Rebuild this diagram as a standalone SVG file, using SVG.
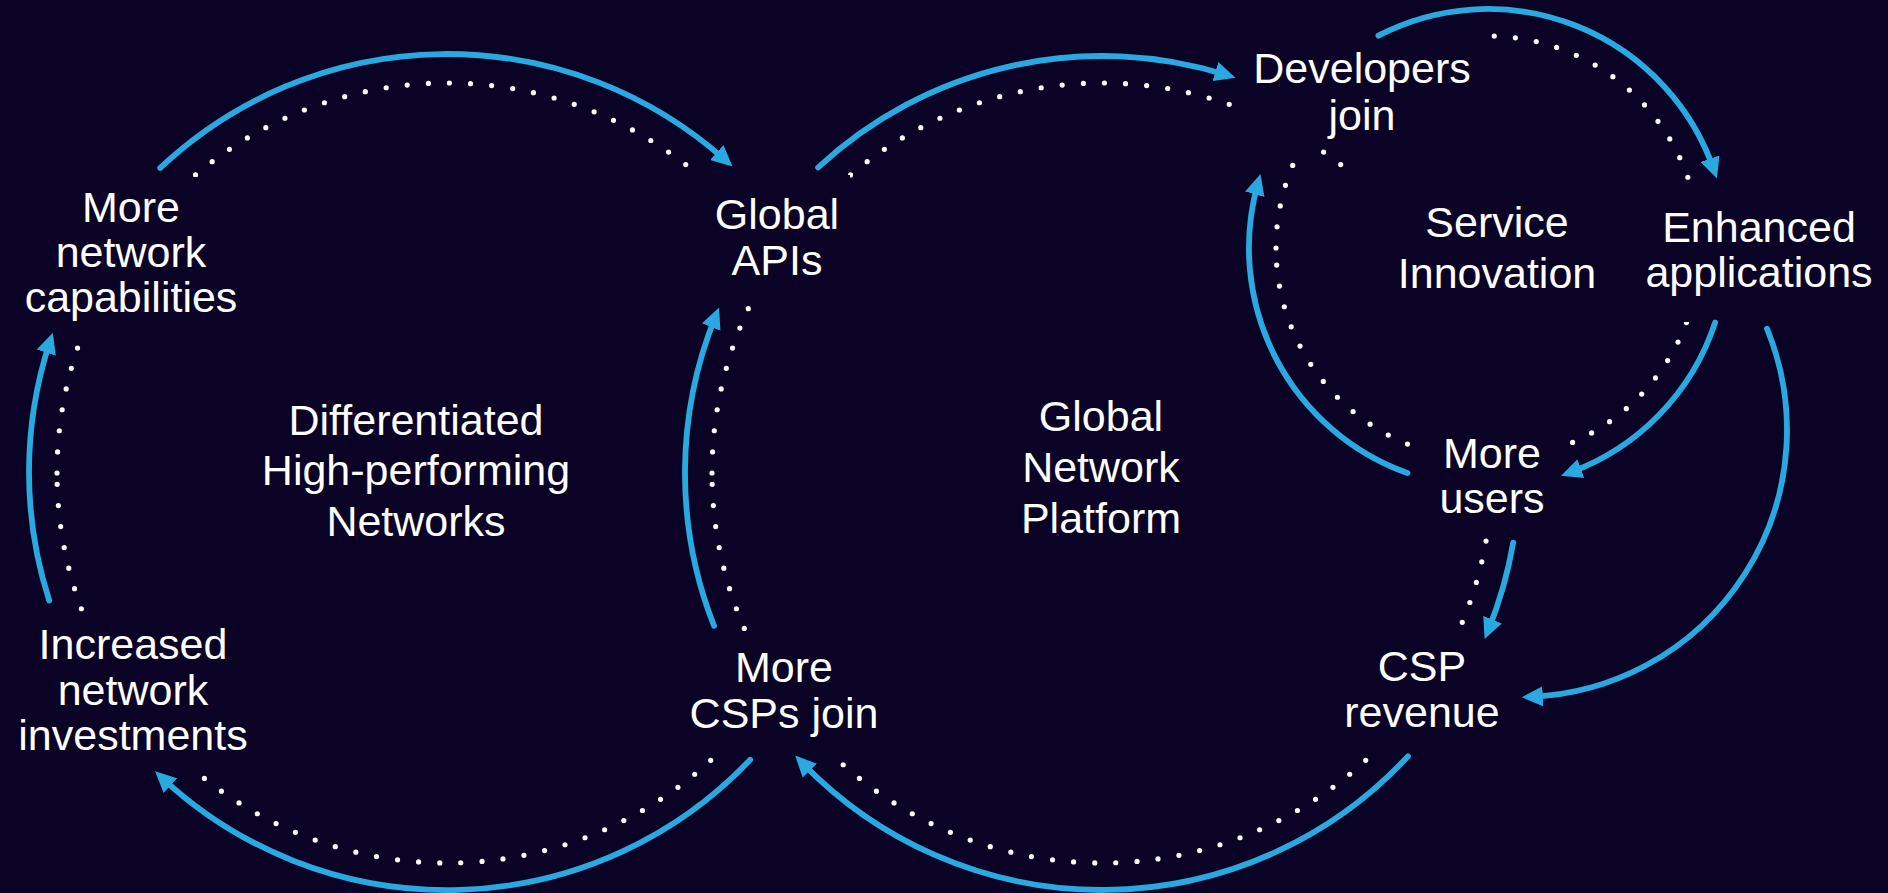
<svg xmlns="http://www.w3.org/2000/svg" width="1888" height="893" viewBox="0 0 1888 893">
<style>
.bg{fill:#0a0326}
.ring{stroke:#ffffff;stroke-width:5.2;stroke-dasharray:0 21.2;stroke-linecap:round}
.ring.fill{fill:#0a0326}
.ring.nofill{fill:none}
.arc{fill:none;stroke:#29a9e0;stroke-width:5.8;stroke-linecap:round;marker-end:url(#ah)}
.mask{fill:#0a0326}
.lbl{font-family:"Liberation Sans",Arial,sans-serif;font-size:43px;fill:#ffffff;text-anchor:middle}
</style>
<defs>
<marker id="ah" markerUnits="userSpaceOnUse" markerWidth="21" markerHeight="20" refX="11.5" refY="10" orient="auto">
<path d="M0,0 L21,10 L0,20 Z" fill="#29a9e0"/>
</marker>
</defs>
<rect class="bg" x="0" y="0" width="1888" height="893"/>

<g id="loops">
<path class="ring nofill" d="M57,473 A390,390 0 1 1 837,473 A390,390 0 1 1 57,473"/>
<path class="ring fill" d="M712,473 A390,390 0 1 1 1492,473 A390,390 0 1 1 712,473"/>
<path class="ring nofill" d="M1276,248 A212,212 0 1 1 1700,248 A212,212 0 1 1 1276,248"/>
</g>

<g id="loop-label-differentiated">
<text class="lbl" x="416" y="435">Differentiated</text>
<text class="lbl" x="416" y="485">High-performing</text>
<text class="lbl" x="416" y="536">Networks</text>
</g>

<g id="loop-label-platform">
<text class="lbl" x="1101" y="431">Global</text>
<text class="lbl" x="1101" y="482">Network</text>
<text class="lbl" x="1101" y="533">Platform</text>
</g>

<g id="loop-label-service">
<rect class="mask" x="1345" y="168" width="275" height="177"/>
<text class="lbl" x="1497" y="237">Service</text>
<text class="lbl" x="1497" y="288">Innovation</text>
</g>

<g id="node-capabilities">
<rect class="mask" x="22" y="177" width="220" height="154"/>
<text class="lbl" x="131" y="222">More</text>
<text class="lbl" x="131" y="267">network</text>
<text class="lbl" x="131" y="312">capabilities</text>
</g>

<g id="node-global-apis">
<rect class="mask" x="698" y="175" width="152" height="123"/>
<text class="lbl" x="777" y="229">Global</text>
<text class="lbl" x="777" y="275">APIs</text>
</g>

<g id="node-developers">
<rect class="mask" x="1232" y="28" width="250" height="121"/>
<text class="lbl" x="1362" y="83">Developers</text>
<text class="lbl" x="1362" y="130">join</text>
</g>

<g id="node-enhanced">
<rect class="mask" x="1640" y="184" width="235" height="138"/>
<text class="lbl" x="1759" y="242">Enhanced</text>
<text class="lbl" x="1759" y="287">applications</text>
</g>

<g id="node-users">
<rect class="mask" x="1420" y="340" width="142" height="198"/>
<text class="lbl" x="1492" y="468">More</text>
<text class="lbl" x="1492" y="513">users</text>
</g>

<g id="node-revenue">
<rect class="mask" x="1340" y="630" width="165" height="124"/>
<text class="lbl" x="1422" y="681">CSP</text>
<text class="lbl" x="1422" y="727">revenue</text>
</g>

<g id="node-csps">
<rect class="mask" x="690" y="632" width="190" height="121"/>
<text class="lbl" x="784" y="682">More</text>
<text class="lbl" x="784" y="728">CSPs join</text>
</g>

<g id="node-investments">
<rect class="mask" x="12" y="620" width="240" height="150"/>
<text class="lbl" x="133" y="659">Increased</text>
<text class="lbl" x="133" y="705">network</text>
<text class="lbl" x="133" y="750">investments</text>
</g>

<g id="connectors">
<path class="arc" d="M160.2,167.9 A418,418 0 0 1 725.4,160.2"/>
<path class="arc" d="M49.2,600.5 A418,418 0 0 1 49.9,341.7"/>
<path class="arc" d="M750.2,759.8 A418,418 0 0 1 162,777.8"/>
<path class="arc" d="M818.1,167.5 A417,417 0 0 1 1226.4,75"/>
<path class="arc" d="M714,625.8 A417,417 0 0 1 715.5,316.4"/>
<path class="arc" d="M1408,756.3 A417,417 0 0 1 801.8,762.4"/>
<path class="arc" d="M1513.2,542.6 A417,417 0 0 1 1488.2,630.3"/>
<path class="arc" d="M1378.4,35.6 A239,239 0 0 1 1713.8,169.6"/>
<path class="arc" d="M1715.1,322.6 A239,239 0 0 1 1570,472.5"/>
<path class="arc" d="M1407.4,473 A239,239 0 0 1 1257.9,183.2"/>
<path class="arc" d="M1767,328.7 A267,267 0 0 1 1531.3,696.8"/>
</g>
</svg>
